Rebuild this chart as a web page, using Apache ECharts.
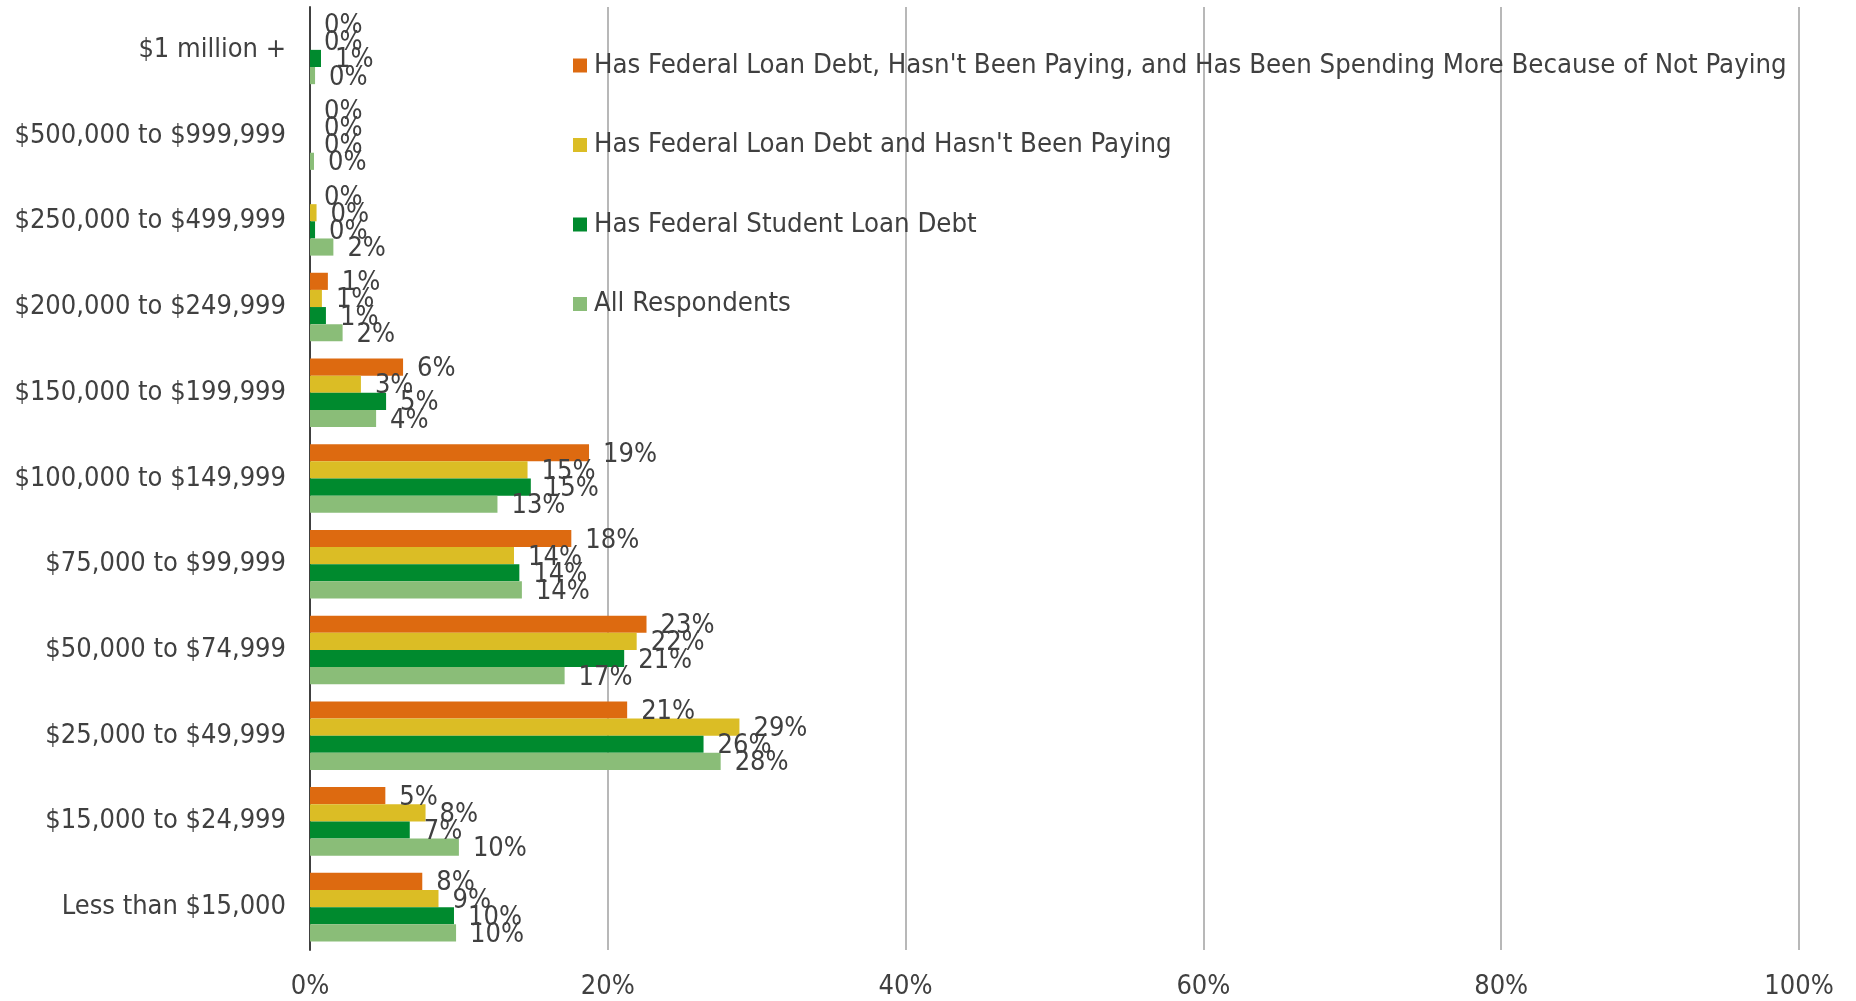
<!DOCTYPE html>
<html>
<head>
<meta charset="utf-8">
<script src="https://cdn.jsdelivr.net/npm/echarts@6/dist/echarts.min.js"></script>
<style>
  html, body { margin: 0; padding: 0; background: #ffffff; }
  #chart { width: 1856px; height: 1001px; }
</style>
</head>
<body>
<div id="chart"></div>
<script>
// Household income brackets, listed top to bottom
const incomeBrackets = [
  '$1 million +',
  '$500,000 to $999,999',
  '$250,000 to $499,999',
  '$200,000 to $249,999',
  '$150,000 to $199,999',
  '$100,000 to $149,999',
  '$75,000 to $99,999',
  '$50,000 to $74,999',
  '$25,000 to $49,999',
  '$15,000 to $24,999',
  'Less than $15,000'
];

// Share of each group (%) falling in each bracket
const spendingMore = [0, 0, 0, 1.2, 6.25, 18.74, 17.55, 22.6, 21.3, 5.06, 7.54];
const notPaying = [0, 0, 0.44, 0.8, 3.42, 14.61, 13.7, 21.94, 28.84, 7.76, 8.63];
const hasDebt = [0.74, 0, 0.34, 1.07, 5.11, 14.83, 14.06, 21.1, 26.43, 6.7, 9.67];
const allRespondents = [0.34, 0.27, 1.57, 2.19, 4.44, 12.59, 14.23, 17.1, 27.58, 10.0, 9.81];

const seriesNames = [
  "Has Federal Loan Debt, Hasn't Been Paying, and Has Been Spending More Because of Not Paying",
  "Has Federal Loan Debt and Hasn't Been Paying",
  'Has Federal Student Loan Debt',
  'All Respondents'
];
const seriesValues = [spendingMore, notPaying, hasDebt, allRespondents];
const seriesColors = ['#dd6a10', '#dbbd25', '#008a2e', '#8abd78'];

const xTicks = [0, 20, 40, 60, 80, 100];

const FONT = '"DejaVu Sans Condensed", "DejaVu Sans", sans-serif';
const TEXT = '#404040';

const chart = echarts.init(document.getElementById('chart'), null, { renderer: 'canvas' });

chart.setOption({
  animation: false,
  textStyle: { fontFamily: FONT, color: TEXT },
  grid: { left: 310, right: 57, top: 7, bottom: 51, containLabel: false },
  legend: {
    orient: 'vertical',
    left: 568,
    top: 47,
    icon: 'rect',
    itemWidth: 14,
    itemHeight: 14,
    itemGap: 52.5,
    data: seriesNames,
    textStyle: {
      fontFamily: FONT,
      fontSize: 27.3,
      color: TEXT,
      lineHeight: 24,
      padding: [0, 0, 0, 2]
    },
    selectedMode: false
  },
  xAxis: {
    type: 'value',
    min: xTicks[0],
    max: xTicks[xTicks.length - 1],
    interval: 20,
    axisLine: { show: false },
    axisTick: { show: false },
    splitLine: { show: true, lineStyle: { color: '#a0a0a0', width: 1.5 } },
    axisLabel: {
      margin: 23,
      fontFamily: FONT,
      fontSize: 27,
      color: TEXT,
      formatter: v => v + '%'
    }
  },
  yAxis: {
    type: 'category',
    inverse: true,
    data: incomeBrackets,
    axisLine: { show: true, lineStyle: { color: '#404040', width: 2 } },
    axisTick: { show: false },
    axisLabel: { margin: 24, fontFamily: FONT, fontSize: 27, color: TEXT }
  },
  series: seriesNames.map((name, i) => ({
    name: name,
    type: 'bar',
    data: seriesValues[i],
    barGap: '0%',
    barCategoryGap: '20%',
    itemStyle: { color: seriesColors[i] },
    label: {
      show: true,
      position: 'right',
      distance: 14,
      offset: [0, 2],
      fontFamily: FONT,
      fontSize: 27,
      color: TEXT,
      formatter: p => Math.round(p.value) + '%'
    }
  }))
});
</script>
</body>
</html>
